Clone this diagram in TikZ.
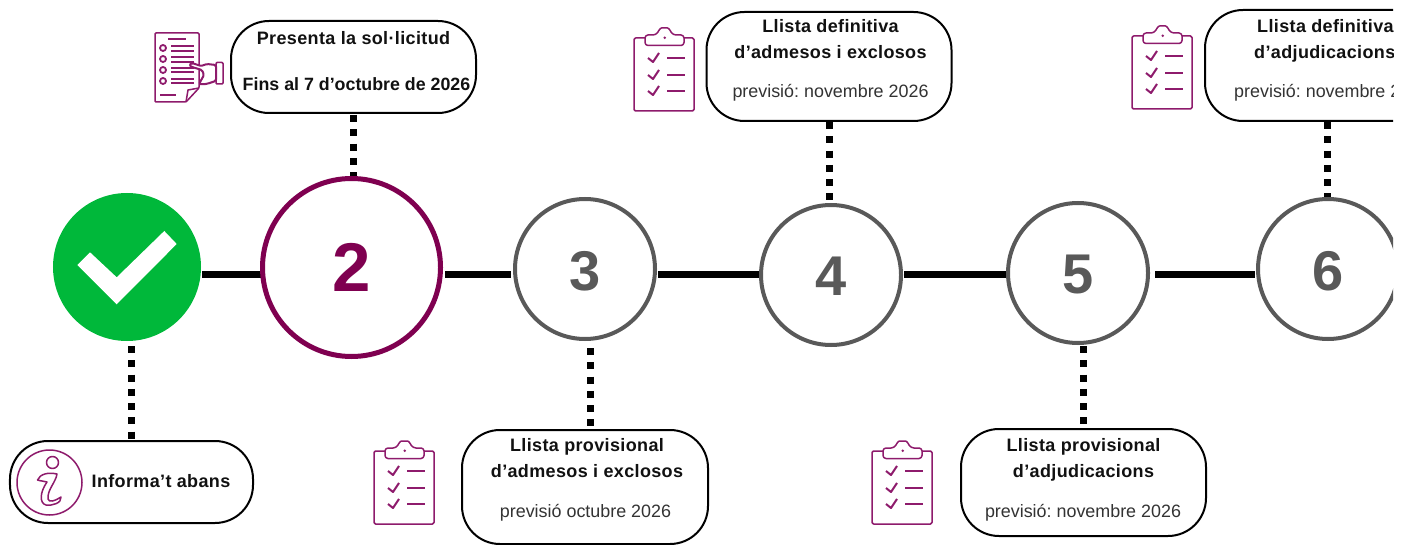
\documentclass[tikz,border=0pt]{standalone}
\usepackage{fontspec}
\setmainfont{Liberation Sans}
\newfontfamily\headfont[LetterSpace=2]{Liberation Sans}
\frenchspacing
\usetikzlibrary{backgrounds}
\definecolor{plum}{HTML}{7F0050}
\definecolor{iconplum}{HTML}{8E1B6C}
\definecolor{stepgrey}{HTML}{595959}
\definecolor{okgreen}{HTML}{00B83A}
\definecolor{txtdark}{HTML}{111111}
\definecolor{txtgrey}{HTML}{333333}
\newcommand{\lowered}[2]{\raisebox{-#1}[\height][0pt]{#2}}
\tikzset{
  stepcircle/.style={circle,draw=stepgrey,line width=4bp,fill=white,minimum size=140bp,inner sep=0pt,outer sep=0pt,text=stepgrey,font=\bfseries\fontsize{56bp}{56bp}\selectfont},
  pill/.style={draw=black,line width=2bp,rounded corners=38bp,fill=white,inner sep=0pt,outer sep=0pt,minimum width=#1},
  head/.style={anchor=base,inner sep=0pt,text=txtdark,font=\headfont\bfseries\fontsize{18bp}{21bp}\selectfont},
  sub/.style={anchor=base,inner sep=0pt,text=txtgrey,font=\fontsize{17.9bp}{21bp}\selectfont},
  axisline/.style={draw=black,line width=7bp},
  dotline/.style={draw=black,line width=7bp,dash pattern=on 7bp off 7.28bp},
  icon/.style={draw=iconplum,line width=1.5bp,line join=round},
  clipboard/.pic={
    \draw[icon,fill=white,rounded corners=1.5bp] (0,10) rectangle (60,83);
    \draw[icon,fill=white,rounded corners=3bp] (11,17.5) -- (11,7) -- (22,7) .. controls (24,4) and (26,0) .. (30.5,0) .. controls (35,0) and (37,4) .. (39,7) -- (50,7) -- (50,17.5) -- cycle;
    \fill[iconplum] (30.7,9.7) circle (1.4bp);
    \foreach \yy in {30,47,63}{
      \draw[icon,line width=2bp] (14,\yy) -- (19,\yy+4) -- (25,\yy-5);
      \draw[icon,line width=2.6bp] (33,\yy) -- (51,\yy);
    }
  }
}
\begin{document}
\begin{tikzpicture}[x=1bp,y=-1bp]
\useasboundingbox (0,0) rectangle (1408,545);
\begin{scope}
\clip (0,0) rectangle (1393,545);
% step circles
\node[circle,fill=okgreen,minimum size=148bp,inner sep=0pt,outer sep=0pt] (n1) at (127,267) {};
\node[stepcircle,draw=plum,line width=5bp,minimum size=178bp,text=plum,font=\bfseries\fontsize{69bp}{69bp}\selectfont] (n2) at (351.5,267.5) {2};
\node[stepcircle] (n3) at (585,269) {\lowered{1.5bp}{3}};
\node[stepcircle] (n4) at (831,275) {\lowered{1.5bp}{4}};
\node[stepcircle] (n5) at (1078,273) {\lowered{1.5bp}{5}};
\node[stepcircle] (n6) at (1328,269) {\lowered{1.5bp}{6}};
\fill[white] (77.3,265) -- (90,252.3) -- (116.7,277.3) -- (164.3,231) -- (176.7,244) -- (116.7,304.3) -- cycle;
% boxes
\node[pill=243bp,minimum height=82bp] (b1) at (131.5,482) {};
\node[pill=245bp,minimum height=92bp] (b2) at (353.5,67) {};
\node[pill=246bp,minimum height=114bp] (b3) at (585,487) {};
\node[pill=245bp,minimum height=109bp] (b4) at (829,66.5) {};
\node[pill=245bp,minimum height=107bp] (b5) at (1083.5,482.5) {};
\node[pill=245bp,minimum height=111bp] (b6) at (1327.5,65.5) {};
% texts
\node[head] (t1) at (161,487) {Informa’t abans};
\node[head] (t2a) at (353.5,45) {Presenta la sol·licitud};
\node[head,font=\bfseries\fontsize{17.8bp}{21bp}\selectfont] (t2b) at (356.5,91) {Fins al 7 d’octubre de 2026};
\node[head] (t3a) at (587,451) {Llista provisional};
\node[head] (t3b) at (587,477) {d’admesos i exclosos};
\node[sub] (t3c) at (585.5,517) {previsió octubre 2026};
\node[head] (t4a) at (830.5,33) {Llista definitiva};
\node[head] (t4b) at (830.5,59) {d’admesos i exclosos};
\node[sub] (t4c) at (830.5,98) {previsió: novembre 2026};
\node[head] (t5a) at (1083.5,451) {Llista provisional};
\node[head] (t5b) at (1083.5,477) {d’adjudicacions};
\node[sub] (t5c) at (1083,517) {previsió: novembre 2026};
\node[head,anchor=base west] (t6a) at (1257,33) {Llista definitiva};
\node[head,anchor=base west] (t6b) at (1254,59) {d’adjudicacions};
\node[sub,anchor=base west] (t6c) at (1234,98) {previsió: novembre 2026};
% info icon
\draw[icon] (49.5,482.5) circle (32.5bp);
\draw[icon] (52.5,462.5) circle (6bp);
\draw[icon,line join=round] (37.5,480) .. controls (40,474) and (48,472) .. (57,474)
  .. controls (56,482) and (47,490) .. (48,499) .. controls (49,503) and (55,501) .. (61,497)
  .. controls (62,503) and (52,506) .. (46,505) .. controls (39,503) and (40,492) .. (47,482)
  .. controls (44,481) and (40,481) .. (37.5,480) -- cycle;
% clipboards
\pic at (374,441) {clipboard};
\pic at (634,28) {clipboard};
\pic at (872,441) {clipboard};
\pic at (1132,26) {clipboard};
% document and hand icon
\draw[icon,rounded corners=1bp] (155,33) -- (199,33) -- (199,88) -- (186,102) -- (155,102) -- cycle;
\draw[icon] (199,88) -- (188,90) -- (186,102);
\draw[icon,line width=2bp] (168,39) -- (186,39) (160,95) -- (176,95);
\foreach \yy/\ya/\yb in {48/46/51,59/57/62,70/68/72.5,81/79/83.5}{
  \draw[icon,line width=1.8bp] (163,\yy) circle (3bp);
  \draw[icon,line width=2bp] (171,\ya) -- (194,\ya) (171,\yb) -- (194,\yb);
}
\draw[icon,fill=white,line width=2bp,rounded corners=1.5bp] (216,65) -- (207,64) -- (201,66) -- (192,63) .. controls (190,64) and (190,66) .. (192,67) -- (202,70) -- (204,75) -- (199,84) .. controls (206,85) and (212,82) .. (216,81) -- cycle;
\draw[icon,rounded corners=1bp] (216,62.5) rectangle (223,84);
\end{scope}
% connectors
\coordinate (axis) at (0,274);
\begin{scope}[on background layer]
\draw[axisline,shorten <=1bp] (n1.east |- axis) -- (n2.west |- axis);
\draw[axisline,shorten <=4.5bp,shorten >=4bp] (n2.east |- axis) -- (n3.west |- axis);
\draw[axisline,shorten <=3bp] (n3.east |- axis) -- (n4.west |- axis);
\draw[axisline,shorten <=3bp] (n4.east |- axis) -- (n5.west |- axis);
\draw[axisline,shorten <=7bp,shorten >=3bp] (n5.east |- axis) -- (n6.west |- axis);
\draw[dotline,shorten <=5bp,shorten >=2bp] (n1.south -| b1) -- (b1.north);
\draw[dotline,shorten <=2bp] (b2.south) -- (n2.north -| b2);
\draw[dotline,shorten <=9bp,shorten >=2bp] ([xshift=5.5bp]n3.south) -- ([xshift=5.5bp]n3.south |- b3.north);
\draw[dotline,shorten <=1bp] (b4.south) -- (n4.north -| b4);
\draw[dotline,shorten <=3bp,shorten >=2bp] (n5.south -| b5) -- (b5.north);
\draw[dotline,shorten <=1bp] (b6.south) -- (n6.north -| b6);
\end{scope}
\end{tikzpicture}
\end{document}
